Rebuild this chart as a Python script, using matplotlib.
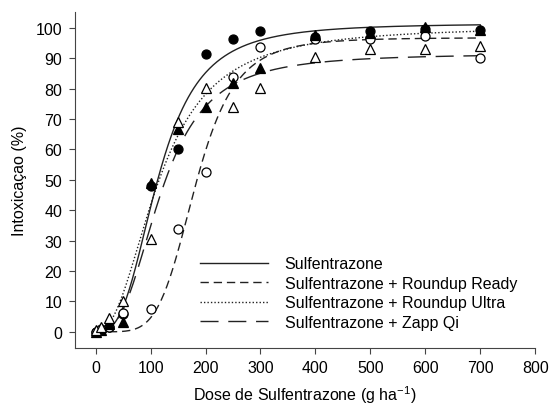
import numpy as np
import matplotlib
matplotlib.use("Agg")
from matplotlib import pyplot as plt

plt.rcParams['font.family'] = ['Liberation Sans', 'DejaVu Sans']
plt.rcParams['font.size'] = 11.5
plt.rcParams['mathtext.fontset'] = 'custom'
plt.rcParams['mathtext.rm'] = 'Liberation Sans'
plt.rcParams['mathtext.default'] = 'regular'

# doses (g/ha) and observed injury (%)
doses = [0, 10, 25, 50, 100, 150, 200, 250, 300, 400, 500, 600, 700]
sulf = [0, 0.5, 1.5, 6, 48, 60, 91.4, 96.4, 99.1, 97, 98.9, 99.7, 99.4]
rr_ready = [0, 1, 1.5, 6.2, 7.6, 33.9, 52.5, 84, 93.6, 96.2, 96.2, 97.5, 90]
rr_ultra = [0, 0.5, 2.5, 3.2, 49, 66.6, 74.1, 81.8, 86.8, 97.7, 98.3, 100.2, 99.2]
zapp = [0.5, 1.5, 4.5, 10, 30.4, 69.2, 80.3, 74.1, 80.3, 90.4, 92.9, 92.9, 94.2]

labels = ['Sulfentrazone', 'Sulfentrazone + Roundup Ready',
          'Sulfentrazone + Roundup Ultra', 'Sulfentrazone + Zapp Qi']

# fitted log-logistic parameters: asymptote, ED50, slope
asym = [101.5, 96.8, 100.5, 91.5]
ed50 = [114, 182, 116, 119]
slope = [2.95, 5.0, 2.3, 2.8]

line_styles = ['-', (0, (6, 3.5)), (0, (1, 1.5)), (0, (13, 7))]
markers = [('o', 'black'), ('o', 'white'), ('^', 'black'), ('^', 'white')]
series = [sulf, rr_ready, rr_ultra, zapp]


def loglogistic(x, a, c, b):
    x = np.asarray(x, dtype=float)
    r = (x / c) ** b
    return a * r / (1 + r)


fig = plt.figure(figsize=(5.5, 4.1), dpi=100)
ax = fig.add_axes([0.136, 0.149, 0.837, 0.819])

xs = np.linspace(0, 700, 400)
for i in range(4):
    ax.plot(xs, loglogistic(xs, asym[i], ed50[i], slope[i]), color='#222222',
            lw=1.0, linestyle=line_styles[i], label=labels[i])

for i in range(4):
    m, fc = markers[i]
    ax.plot(doses, series[i], linestyle='none', marker=m, ms=6.5 if m == 'o' else 7,
            mfc=fc, mec='black', mew=0.9, zorder=3)

ax.set_xlim(-38, 800)
ax.set_ylim(-5.3, 105.2)
ax.set_xticks(range(0, 801, 100))
ax.set_yticks(range(0, 101, 10))
ax.spines['top'].set_visible(False)
ax.spines['right'].set_visible(False)
for s in ['left', 'bottom']:
    ax.spines[s].set_color('#444444')
ax.tick_params(direction='out', length=4, color='#444444', pad=5)
ax.set_xlabel('Dose de Sulfentrazone (g ha$^{-1}$)', labelpad=6)
ax.set_ylabel('Intoxicaçao (%)', labelpad=6)

ax.legend(loc='upper left', bbox_to_anchor=(0.272, 0.273), frameon=False,
          handlelength=4.25, handletextpad=1.05, labelspacing=0.28,
          borderpad=0, borderaxespad=0)

fig.savefig('out.png', dpi=100)
